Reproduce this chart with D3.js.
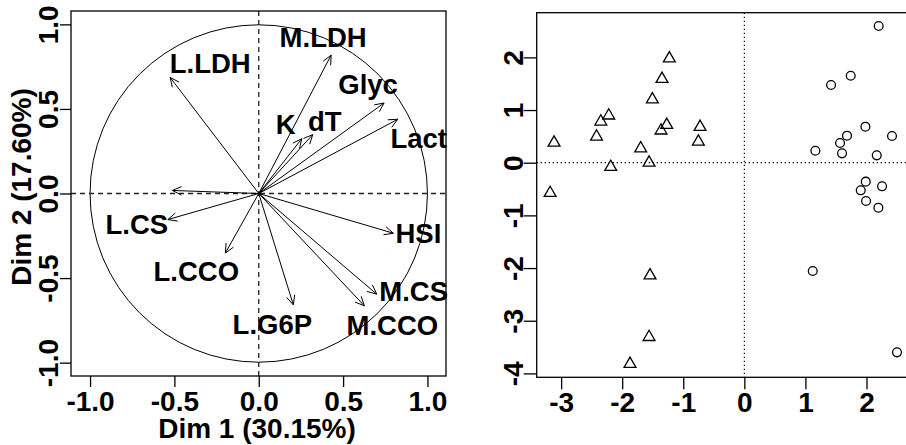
<!DOCTYPE html>
<html>
<head>
<meta charset="utf-8">
<script src="https://cdn.jsdelivr.net/npm/d3@7"></script>
<style>
  html, body { margin: 0; padding: 0; background: #fff; }
  svg { display: block; font-family: "Liberation Sans", Arial, sans-serif; font-weight: bold; }
</style>
</head>
<body>
<svg id="chart" width="906" height="445"></svg>
<script>
// ---- Variables factor map data ----
const varNames = ["M.LDH", "L.LDH", "Glyc", "Lact", "K", "dT", "", "L.CS", "HSI", "L.CCO", "M.CS", "L.G6P", "M.CCO"];
const varDim1  = [0.429, -0.525, 0.743, 0.824, 0.255, 0.320, -0.512, -0.539, 0.798, -0.198, 0.699, 0.205, 0.626];
const varDim2  = [0.818,  0.686, 0.535, 0.439, 0.324, 0.348,  0.018, -0.154, -0.235, -0.352, -0.595, -0.658, -0.664];
// label placement offsets (pixels, from arrow tip to label centre/baseline)
const labelDx = [-8, 40, -16, 21, -16, 12, 0, -31, 25, -29, 37, -21, 28];
const labelDy = [-8, -4.6, -8.7, 29, -5, -4, 0, 14, 10, 28, 7, 29, 29];

const varTicks = [-1.0, -0.5, 0.0, 0.5, 1.0];
const varTickLabels = ["-1.0", "-0.5", "0.0", "0.5", "1.0"];
const dim1Title = "Dim 1 (30.15%)";
const dim2Title = "Dim 2 (17.60%)";

// ---- Individuals factor map data ----
const triX = [-1.228, -1.348, -1.506, -2.22, -2.35, -2.42, -3.116, -1.271, -1.364, -0.725, -0.753, -1.697, -1.56, -2.188, -3.18, -1.544, -1.56, -1.872];
const triY = [1.98, 1.59, 1.20, 0.895, 0.78, 0.495, 0.38, 0.716, 0.61, 0.68, 0.40, 0.272, 0.0, -0.082, -0.576, -2.14, -3.31, -3.82];
const circX = [2.20, 1.742, 1.42, 1.982, 1.681, 2.418, 1.567, 1.163, 1.60, 2.168, 1.988, 2.255, 1.906, 1.993, 2.195, 1.12, 2.50];
const circY = [2.595, 1.652, 1.475, 0.684, 0.513, 0.507, 0.374, 0.228, 0.178, 0.14, -0.36, -0.448, -0.524, -0.727, -0.854, -2.056, -3.60];
const indXTicks = [-3, -2, -1, 0, 1, 2];
const indXTickLabels = ["-3", "-2", "-1", "0", "1", "2"];
const indYTicks = [-4, -3, -2, -1, 0, 1, 2];
const indYTickLabels = ["-4", "-3", "-2", "-1", "0", "1", "2"];

const svg = d3.select("#chart");

function rotatedLeftLabels(g, off) {
  g.selectAll(".tick text")
    .attr("x", 0).attr("y", -off).attr("dy", 0)
    .attr("transform", "rotate(-90)")
    .attr("text-anchor", "middle");
}

// ================= LEFT PANEL =================
const L = { left: 71, right: 446, top: 11, bottom: 376 };
const xv = d3.scaleLinear().domain([-1.113, 1.110]).range([L.left, L.right]);
const yv = d3.scaleLinear().domain([-1.079, 1.079]).range([L.bottom, L.top]);

const left = svg.append("g");
left.append("circle")
  .attr("cx", xv(0)).attr("cy", yv(0))
  .attr("r", xv(1) - xv(0))
  .attr("fill", "none").attr("stroke", "#000").attr("stroke-width", 1);
left.append("line").attr("x1", L.left).attr("x2", L.right).attr("y1", yv(0)).attr("y2", yv(0))
  .attr("stroke", "#222").attr("stroke-width", 1.3).attr("stroke-dasharray", "5,4");
left.append("line").attr("x1", xv(0)).attr("x2", xv(0)).attr("y1", L.top).attr("y2", L.bottom)
  .attr("stroke", "#222").attr("stroke-width", 1.3).attr("stroke-dasharray", "5,4");

const headLen = 10, headAng = 25 * Math.PI / 180;
varNames.forEach((name, i) => {
  const x0 = xv(0), y0 = yv(0), x1 = xv(varDim1[i]), y1 = yv(varDim2[i]);
  left.append("line").attr("x1", x0).attr("y1", y0).attr("x2", x1).attr("y2", y1)
    .attr("stroke", "#000").attr("stroke-width", 1);
  const a = Math.atan2(y1 - y0, x1 - x0);
  const p = d3.path();
  p.moveTo(x1 - headLen * Math.cos(a - headAng), y1 - headLen * Math.sin(a - headAng));
  p.lineTo(x1, y1);
  p.lineTo(x1 - headLen * Math.cos(a + headAng), y1 - headLen * Math.sin(a + headAng));
  left.append("path").attr("d", p.toString()).attr("fill", "none")
    .attr("stroke", "#000").attr("stroke-width", 1);
  if (name) {
    left.append("text").attr("x", x1 + labelDx[i]).attr("y", y1 + labelDy[i])
      .attr("text-anchor", "middle").attr("font-size", 27.5).text(name);
  }
});

left.append("rect").attr("x", L.left).attr("y", L.top)
  .attr("width", L.right - L.left).attr("height", L.bottom - L.top)
  .attr("fill", "none").attr("stroke", "#000").attr("stroke-width", 1.3);

const axB = left.append("g").attr("transform", `translate(0,${L.bottom})`)
  .call(d3.axisBottom(xv).tickValues(varTicks).tickFormat((d, i) => varTickLabels[i]).tickSize(11).tickSizeOuter(0));
axB.select(".domain").remove();
axB.selectAll(".tick line").attr("stroke-width", 1.3);
axB.selectAll(".tick text").attr("y", 35).attr("dy", 0).attr("font-size", 28).attr("font-family", null);
const axL = left.append("g").attr("transform", `translate(${L.left},0)`)
  .call(d3.axisLeft(yv).tickValues(varTicks).tickFormat((d, i) => varTickLabels[i]).tickSize(11).tickSizeOuter(0));
axL.select(".domain").remove();
axL.selectAll(".tick line").attr("stroke-width", 1.3);
axL.selectAll(".tick text").attr("font-size", 28).attr("font-family", null);
rotatedLeftLabels(axL, 13);

left.append("text").attr("x", 257).attr("y", 438).attr("text-anchor", "middle")
  .attr("font-size", 28).text(dim1Title);
left.append("text").attr("transform", "translate(31,187) rotate(-90)")
  .attr("text-anchor", "middle").attr("font-size", 28).text(dim2Title);

// ================= RIGHT PANEL =================
const R = { left: 536.7, right: 911, top: 12.7, bottom: 377.3 };
const xi = d3.scaleLinear().domain([-3.40, 2.729]).range([R.left, R.right]);
const yi = d3.scaleLinear().domain([-4.074, 2.848]).range([R.bottom, R.top]);
const right = svg.append("g");

right.append("line").attr("x1", R.left).attr("x2", R.right).attr("y1", yi(0)).attr("y2", yi(0))
  .attr("stroke", "#000").attr("stroke-width", 1.2).attr("stroke-dasharray", "1.3,2.7");
right.append("line").attr("x1", xi(0)).attr("x2", xi(0)).attr("y1", R.top).attr("y2", R.bottom)
  .attr("stroke", "#000").attr("stroke-width", 1.2).attr("stroke-dasharray", "1.3,2.7");

const s = 4.4;
const triPath = (cx, cy) => {
  const r = 1.5551 * s, xc = 1.3468 * s, yc = 0.7776 * s;
  return `M${cx},${cy - r}L${cx + xc},${cy + yc}L${cx - xc},${cy + yc}Z`;
};
right.selectAll("path.tri").data(triX).join("path").attr("class", "tri")
  .attr("d", (d, i) => triPath(xi(d), yi(triY[i])))
  .attr("fill", "none").attr("stroke", "#000").attr("stroke-width", 1.3);
right.selectAll("circle.ind").data(circX).join("circle").attr("class", "ind")
  .attr("cx", d => xi(d)).attr("cy", (d, i) => yi(circY[i])).attr("r", s)
  .attr("fill", "none").attr("stroke", "#000").attr("stroke-width", 1.3);

right.append("rect").attr("x", R.left).attr("y", R.top)
  .attr("width", R.right - R.left).attr("height", R.bottom - R.top)
  .attr("fill", "none").attr("stroke", "#000").attr("stroke-width", 1.3);

const bxB = right.append("g").attr("transform", `translate(0,${R.bottom})`)
  .call(d3.axisBottom(xi).tickValues(indXTicks).tickFormat((d, i) => indXTickLabels[i]).tickSize(12).tickSizeOuter(0));
bxB.select(".domain").remove();
bxB.selectAll(".tick line").attr("stroke-width", 1.3);
bxB.selectAll(".tick text").attr("y", 34.7).attr("dy", 0).attr("font-size", 28).attr("font-family", null);
const bxL = right.append("g").attr("transform", `translate(${R.left},0)`)
  .call(d3.axisLeft(yi).tickValues(indYTicks).tickFormat((d, i) => indYTickLabels[i]).tickSize(13).tickSizeOuter(0));
bxL.select(".domain").remove();
bxL.selectAll(".tick line").attr("stroke-width", 1.3);
bxL.selectAll(".tick text").attr("font-size", 28).attr("font-family", null);
rotatedLeftLabels(bxL, 13.4);
</script>
</body>
</html>
